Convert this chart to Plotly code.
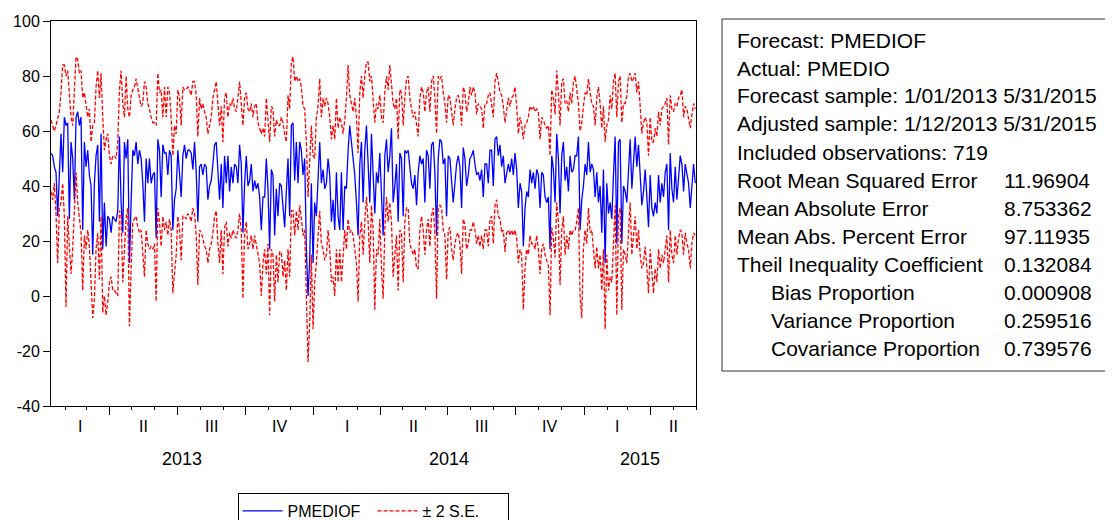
import pandas as pd
import plotly.graph_objects as go

# ---------------- data ----------------
forecast = [
    52,51,47,45,29,48,59,45,65,62, 63,28,56,50,35,65,67,62,65,24,
    56,47,53,44,40,15,41,51,55,27, 59,17,34,18,29,28,23,29,28,27,
    31,58,34,23,56,50,57,12,34,53, 51,56,48,53,50,41,27,50,41,50,
    41,44,45,
    21,57,53,36,55,52,52,44,53,51, 24,35,39,53,44,36,51,55,50,53,
    53,52,46,56,45,27,47,48,44,48, 47,35,40,42,48,55,56,44,35,48,
    32,51,41,51,38,47,41,48,47,41, 55,48,23,41,51,40,42,48,38,42,
    39,41,36,24,36,36,
    50,39,17,46,44,22,39,29,41,40, 32,25,38,50,29,62,63,42,56,41,
    56,53,44,50,17,0,13,41,12,34, 29,44,56,41,46,39,41,50,44,27,
    35,24,45,29,24,45,24,40,39,53, 62,56,50,44,34,22,48,56,34,53,
    62,50,34,59,41,30,
    45,41,52,38,22,51,57,45,51,61, 34,40,48,27,52,50,29,53,52,53,
    46,41,39,44,33,45,51,48,50,34, 53,51,39,55,56,45,22,50,57,56,
    48,50,29,51,50,41,34,41,48,51, 47,32,54,50,40,44,50,51,53,48,
    44,45,42,46,36,48,
    48,41,53,53,40,57,58,51,55,47, 51,41,45,48,45,50,44,52,46,32,
    41,38,18,32,38,36,46,41,45,39, 46,44,32,45,44,36,34,36,17,51,
    46,34,59,50,30,51,56,42,47,38, 51,45,46,51,51,58,24,35,40,48,
    44,56,45,48,46,36,
    45,34,40,23,46,12,41,30,34,28, 44,58,19,56,57,19,40,38,34,46,
    57,39,51,58,47,55,44,33,38,46, 36,25,44,32,29,34,30,44,34,41,
    36,45,48,24,52,39,34,47,35,44, 51,48,38,48,44,41,32,42,48,41,
]

upper_2se = [
    64,62,60,62,65,67,74,84,84,80, 82,72,65,62,78,87,86,81,82,72,
    74,70,65,68,56,62,63,76,82,72, 81,65,53,57,59,51,48,51,51,50,
    56,75,82,70,65,80,68,65,73,75, 76,79,75,72,69,70,78,76,70,68,
    65,63,63,
    62,81,74,75,65,76,65,76,74,65, 51,62,59,75,72,62,76,75,75,76,
    75,73,78,78,73,58,72,68,70,67, 65,59,62,65,72,75,78,70,62,69,
    56,72,74,65,70,69,72,68,67,72, 78,70,62,72,74,68,67,70,65,69,
    70,63,61,59,61,58,
    72,63,56,69,68,58,64,62,62,65, 63,59,56,73,68,85,87,78,80,78,
    79,76,69,68,56,36,48,62,51,50, 65,69,79,65,72,69,72,70,65,57,
    62,57,72,61,65,63,59,64,72,84, 73,70,67,72,65,52,74,80,72,80,
    85,85,78,80,72,63,
    70,68,73,65,63,74,80,75,84,78, 70,68,72,57,75,74,62,72,79,80,
    72,68,65,67,62,58,72,76,74,67, 74,76,67,78,80,72,59,80,79,80,
    74,70,63,73,72,67,62,68,72,73, 70,62,76,74,67,70,76,73,76,74,
    66,70,69,68,61,70,
    70,73,74,70,65,78,81,78,74,73, 69,63,68,72,69,72,73,76,69,59,
    65,62,57,62,63,65,69,68,69,67, 68,67,57,65,64,62,61,62,51,75,
    72,66,82,74,62,78,79,70,71,67, 74,70,78,80,75,70,60,63,69,74,
    73,79,74,70,69,62,
    72,76,70,61,69,56,62,64,73,68, 78,81,65,78,80,63,70,70,73,80,
    81,78,79,81,74,78,69,59,63,65, 63,51,65,56,56,61,58,67,62,68,
    69,70,72,55,73,68,67,70,69,72, 73,75,65,69,68,65,61,66,70,68,
]

lower_2se = [
    38,35,41,30,12,32,34,41,29,-4, 29,17,8,17,29,45,34,29,23,2,
    22,17,24,18,7,-8,-1,17,23,6, 29,-6,0,-7,-2,5,7,2,2,1,
    0,31,29,5,19,28,32,-11,10,27, 28,29,25,23,24,15,7,24,19,17,
    18,17,19,
    -2,32,27,18,29,24,27,22,28,24, 1,10,15,29,24,13,29,29,28,30,
    29,27,32,30,22,4,24,23,21,18, 17,12,17,19,23,29,31,19,12,24,
    8,25,27,18,23,21,24,22,21,24, 30,24,-1,23,27,17,19,22,17,22,
    19,15,12,0,12,17,
    8,19,-7,17,15,-2,15,5,16,16, 7,13,2,17,7,31,31,22,31,24,
    33,28,22,24,-5,-24,-10,15,-12,5, 12,24,31,19,17,13,15,24,17,5,
    7,0,17,5,17,5,15,24,17,28, 23,24,22,17,12,-2,22,27,15,27,
    36,27,12,33,24,-5,
    17,15,28,10,-1,24,36,27,34,27, 7,15,22,2,24,23,5,27,32,32,
    19,17,15,17,10,10,24,29,24,15, 24,28,18,29,32,23,-1,32,33,32,
    24,22,6,24,25,17,13,19,22,23, 19,8,28,26,17,19,24,24,27,24,
    19,22,18,22,17,24,
    24,18,28,29,19,33,35,29,28,23, 24,16,23,24,22,24,22,24,21,12,
    17,15,-5,10,17,15,22,19,19,17, 22,17,8,17,19,15,13,11,-7,25,
    21,14,34,27,4,24,29,15,22,17, 24,22,24,24,27,32,0,-8,17,24,
    19,32,23,24,17,10,
    18,10,15,2,17,-12,15,2,7,5, 19,33,-7,29,32,-5,17,15,12,22,
    34,15,24,29,17,24,15,10,12,18, 10,1,17,7,1,10,5,17,10,15,
    12,17,22,5,24,15,12,22,15,21, 24,23,15,23,19,17,10,19,23,22,
]

sample_start = "2013-01-12"
sample_end = "2015-05-31"
axis_end = "2015-06-01"

quarter_names = ["I", "II", "III", "IV"]
years = [2013, 2014, 2015]

y_ticks = [100, 80, 60, 40, 20, 0, -20, -40]

header_lines = [
    "Forecast: PMEDIOF",
    "Actual: PMEDIO",
    "Forecast sample: 1/01/2013 5/31/2015",
    "Adjusted sample: 1/12/2013 5/31/2015",
    "Included observations: 719",
]
stat_labels = [
    "Root Mean Squared Error",
    "Mean Absolute Error",
    "Mean Abs. Percent Error",
    "Theil Inequality Coefficient",
    "Bias Proportion",
    "Variance Proportion",
    "Covariance Proportion",
]
stat_values = ["11.96904", "8.753362", "97.11935", "0.132084",
               "0.000908", "0.259516", "0.739576"]
stat_indent = [False, False, False, False, True, True, True]

# ---------------- figure ----------------
# the page body has an 8px margin, so the figure is drawn 8px smaller and
# every position below is given in the 1113x520 screen frame
OFF = 8
SW, SH = 1113, 520
W, H = SW - OFF, SH - OFF
PL, PR, PT, PB = 51, 696, 21, 406          # plot frame on screen
L, R, T, B = PL - OFF, SW - PR, PT - OFF, SH - PB
pw, ph = PR - PL, PB - PT

def px_x(p):
    return (p - PL) / pw

def px_y(p):
    return (PB - p) / ph

FONT = "Liberation Sans, Arial, sans-serif"

dates = pd.date_range(sample_start, sample_end, periods=len(forecast))

fig = go.Figure()
fig.add_trace(go.Scatter(
    x=dates, y=forecast, mode="lines", name="PMEDIOF",
    line=dict(color="#0000FF", width=1.3),
))
fig.add_trace(go.Scatter(
    x=dates, y=upper_2se, mode="lines", name="± 2 S.E.", legendgroup="se",
    line=dict(color="#FF0000", width=1.3, dash="4px,2px"),
))
fig.add_trace(go.Scatter(
    x=dates, y=lower_2se, mode="lines", name="± 2 S.E.", legendgroup="se",
    showlegend=False,
    line=dict(color="#FF0000", width=1.3, dash="4px,2px"),
))

ann = []
x0 = pd.Timestamp(sample_start)
x1 = pd.Timestamp(axis_end)
for y in years:
    for q in range(4):
        qs = pd.Timestamp(year=y, month=3 * q + 1, day=1)
        qe = qs + pd.DateOffset(months=3)
        s, e = max(qs, x0), min(qe, x1)
        if s >= e:
            continue
        ann.append(dict(x=s + (e - s) / 2, xref="x", y=px_y(427), yref="paper",
                        yanchor="middle", text=quarter_names[q], showarrow=False,
                        font=dict(size=16, family=FONT, color="#000")))
    ys = max(pd.Timestamp(year=y, month=1, day=1), x0)
    ye = min(pd.Timestamp(year=y + 1, month=1, day=1), x1)
    ann.append(dict(x=ys + (ye - ys) / 2, xref="x", y=px_y(459), yref="paper",
                    yanchor="middle", text=str(y), showarrow=False,
                    font=dict(size=18, family=FONT, color="#000")))

line_y = [40 + 28 * i for i in range(12)]
for i, t in enumerate(header_lines):
    ann.append(dict(x=px_x(735), y=px_y(line_y[i]), xref="paper", yref="paper",
                    xanchor="left", yanchor="middle", text=t, showarrow=False,
                    font=dict(size=21, family=FONT, color="#000")))
for j, (t, v, ind) in enumerate(zip(stat_labels, stat_values, stat_indent)):
    yy = px_y(line_y[len(header_lines) + j])
    ann.append(dict(x=px_x(769 if ind else 735), y=yy, xref="paper", yref="paper",
                    xanchor="left", yanchor="middle", text=t, showarrow=False,
                    font=dict(size=21, family=FONT, color="#000")))
    ann.append(dict(x=px_x(1002), y=yy, xref="paper", yref="paper",
                    xanchor="left", yanchor="middle", text=v, showarrow=False,
                    font=dict(size=21, family=FONT, color="#000")))

shapes = [dict(type="rect", xref="paper", yref="paper",
               x0=px_x(722), x1=px_x(1140), y0=px_y(371), y1=px_y(19),
               line=dict(color="#333", width=1), fillcolor="rgba(0,0,0,0)")]

fig.update_layout(
    width=W, height=H,
    margin=dict(l=L, r=R, t=T, b=B, autoexpand=False),
    paper_bgcolor="white", plot_bgcolor="white",
    font=dict(family=FONT, size=16, color="#000"),
    showlegend=True,
    legend=dict(orientation="h", x=px_x(373), xanchor="center",
                yref="container", y=(SH - 493) / H, yanchor="top",
                bordercolor="#000", borderwidth=1, bgcolor="white",
                font=dict(size=16, family=FONT, color="#000"),
                itemwidth=40, entrywidth=80, entrywidthmode="pixels"),
    annotations=ann,
    shapes=shapes,
    xaxis=dict(type="date", range=[sample_start, axis_end],
               showgrid=False, zeroline=False,
               showline=True, linecolor="#000", linewidth=1, mirror=True,
               ticks="outside", tick0="2013-01-01", dtick="M3",
               ticklen=8, tickcolor="#000", tickwidth=1,
               showticklabels=False,
               minor=dict(dtick="M1", tick0="2013-01-01", ticks="outside",
                          ticklen=3, tickcolor="#000", tickwidth=1, showgrid=False)),
    yaxis=dict(range=[-40, 100], tickvals=y_ticks,
               ticktext=[str(v) for v in y_ticks],
               showgrid=False, zeroline=False,
               showline=True, linecolor="#000", linewidth=1, mirror=True,
               ticks="outside", ticklen=7, tickcolor="#000",
               tickfont=dict(size=16, family=FONT, color="#000")),
)

fig.write_html("out.html")
